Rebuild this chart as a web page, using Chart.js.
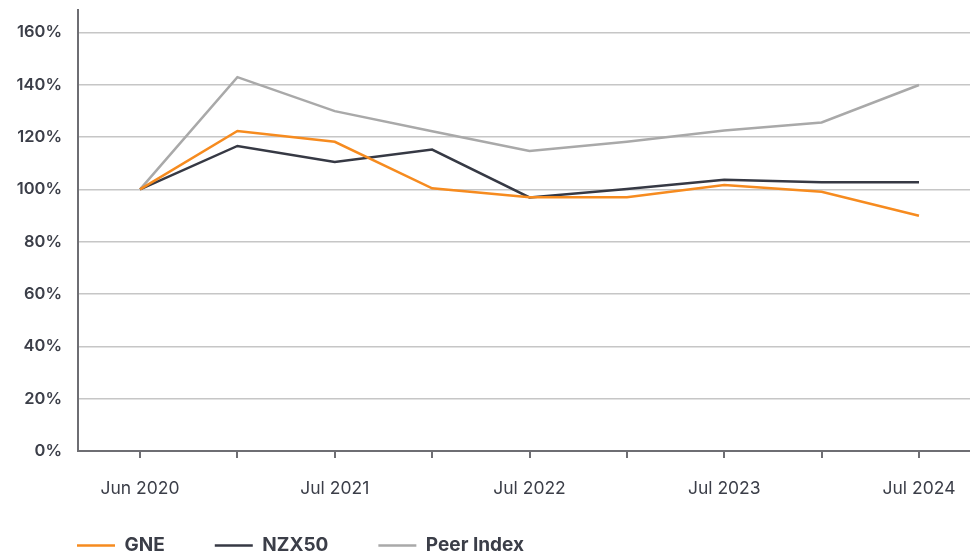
<!DOCTYPE html>
<html>
<head>
<meta charset="utf-8">
<script src="https://cdn.jsdelivr.net/npm/chart.js@4.4.0/dist/chart.umd.min.js"></script>
<style>
  html, body { margin: 0; padding: 0; background: #fff; overflow: hidden; }
  #wrap { width: 970px; height: 552px; overflow: hidden; }
  #box { width: 970px; height: 580px; position: relative; }
</style>
</head>
<body>
<div id="wrap"><div id="box"><canvas id="perfChart"></canvas></div></div>
<script>
// datos (% relativo a Jun 2020)
const periodos = ["Jun 2020", "Jan 2021", "Jul 2021", "Jan 2022", "Jul 2022", "Jan 2023", "Jul 2023", "Jan 2024", "Jul 2024"];
const dataGNE = [100, 122.3, 118.2, 100.4, 97.0, 97.0, 101.7, 99.1, 89.9];
const dataNZX50 = [100, 116.6, 110.5, 115.2, 96.9, 100.1, 103.7, 102.7, 102.7];
const dataPeer = [100, 142.9, 129.9, 122.2, 114.7, 118.2, 122.5, 125.6, 139.9];
const ticksY = [0, 20, 40, 60, 80, 100, 120, 140, 160];

const textColor = "#3b3e48";
const axisColor = "#6e6e73";

function puntos(arr) {
    return arr.map((v, i) => ({ x: i, y: v }));
}

// mueve la leyenda a su sitio (sangría a la izquierda, un poco más arriba)
const moverLeyenda = {
    id: "moverLeyenda",
    afterLayout(chart) {
        chart.legend.left += 17;
        chart.legend.top -= 15;
    },
};

const ctx = document.getElementById("perfChart").getContext("2d");
let perfChart = new Chart(ctx, {
    type: "line",
    data: {
        datasets: [
            {
                label: "GNE",
                data: puntos(dataGNE),
                borderColor: "#f68b1f",
                backgroundColor: "#f68b1f",
                borderWidth: 2.5,
                pointRadius: 0,
                pointStyle: "line",
            },
            {
                label: "NZX50",
                data: puntos(dataNZX50),
                borderColor: "#363944",
                backgroundColor: "#363944",
                borderWidth: 2.5,
                pointRadius: 0,
                pointStyle: "line",
            },
            {
                label: "Peer Index",
                data: puntos(dataPeer),
                borderColor: "#a9a9a9",
                backgroundColor: "#a9a9a9",
                borderWidth: 2.5,
                pointRadius: 0,
                pointStyle: "line",
            },
        ],
    },
    plugins: [moverLeyenda],
    options: {
        responsive: true,
        maintainAspectRatio: false,
        animation: false,
        layout: { padding: { top: 5, left: 10, right: 0, bottom: 0 } },
        plugins: {
            tooltip: { enabled: false },
            legend: {
                position: "bottom",
                align: "start",
                labels: {
                    usePointStyle: true,
                    pointStyleWidth: 38,
                    padding: 50,
                    color: textColor,
                    font: { family: "Inter", size: 19, weight: "700" },
                },
            },
        },
        scales: {
            x: {
                type: "linear",
                min: -0.637,
                max: 8.524,
                afterBuildTicks: (scale) => {
                    scale.ticks = periodos.map((_, i) => ({ value: i }));
                },
                afterFit: (scale) => {
                    scale.height = 50;
                    scale.paddingLeft = 0;
                    scale.paddingRight = 0;
                },
                ticks: {
                    padding: 20,
                    color: textColor,
                    font: { family: "Inter", size: 17.5, weight: "400" },
                    maxRotation: 0,
                    autoSkip: false,
                    callback: (v) => (v % 2 === 0 ? periodos[v] : ""),
                },
                grid: {
                    drawOnChartArea: false,
                    drawTicks: true,
                    tickLength: 7,
                    color: axisColor,
                    lineWidth: 2,
                },
                border: { color: axisColor, width: 2 },
            },
            y: {
                min: 0,
                max: 168.6,
                afterBuildTicks: (scale) => {
                    scale.ticks = ticksY.map((v) => ({ value: v }));
                },
                afterFit: (scale) => { scale.width = 68; },
                ticks: {
                    padding: 0,
                    color: textColor,
                    font: { family: "Inter", size: 16.5, weight: "600" },
                    callback: (v) => v + "%",
                },
                grid: {
                    drawTicks: true,
                    tickLength: 16,
                    tickColor: "rgba(0,0,0,0)",
                    color: "#c6c6c6",
                    lineWidth: 1.5,
                },
                border: { color: axisColor, width: 2 },
            },
        },
    },
});
</script>
</body>
</html>
